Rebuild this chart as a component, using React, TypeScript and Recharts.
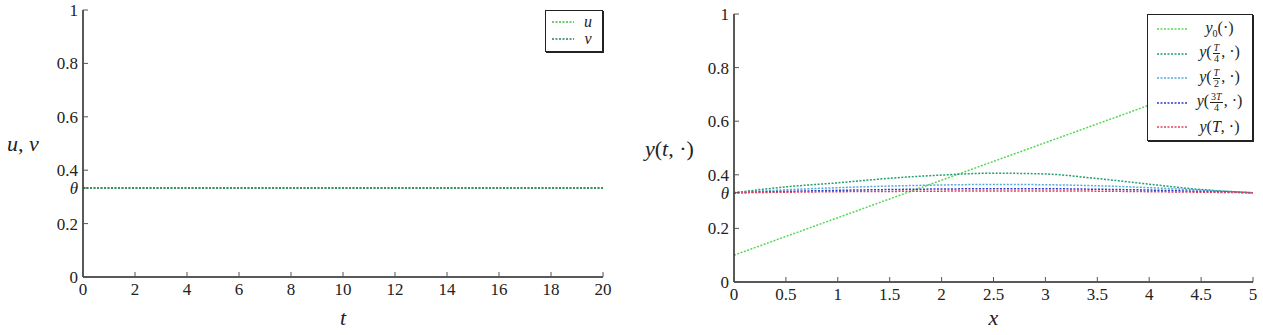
import React from "react";
import { LineChart, Line, XAxis, YAxis, Legend, Label } from "recharts";

const THETA = 1 / 3;

// left panel: u, v over time
const tPoints = [0, 5, 10, 15, 20];
const uValues = [0.333, 0.333, 0.333, 0.333, 0.333];
const vValues = [0.333, 0.333, 0.333, 0.333, 0.333];
const tTicks = [0, 2, 4, 6, 8, 10, 12, 14, 16, 18, 20];

// right panel: profiles y(t, x)
const xPoints = [0, 0.5, 1, 1.5, 2, 2.5, 3, 3.5, 4, 4.5, 5];
const y0Values = [0.1, 0.17, 0.24, 0.31, 0.38, 0.45, 0.52, 0.59, 0.66, 0.73, 0.8];
const yQuarter = [0.333, 0.355, 0.37, 0.387, 0.399, 0.406, 0.403, 0.386, 0.365, 0.345, 0.333];
const yHalf = [0.333, 0.344, 0.352, 0.358, 0.362, 0.364, 0.363, 0.359, 0.352, 0.343, 0.333];
const yThreeQuarter = [0.333, 0.338, 0.342, 0.345, 0.347, 0.348, 0.348, 0.346, 0.343, 0.338, 0.333];
const yFinal = [0.333, 0.335, 0.337, 0.338, 0.339, 0.34, 0.34, 0.339, 0.337, 0.335, 0.333];
const xTicks = [0, 0.5, 1, 1.5, 2, 2.5, 3, 3.5, 4, 4.5, 5];

const yTicks = [0, 0.2, THETA, 0.4, 0.6, 0.8, 1];

const leftKeys = ["u", "v"];
const rightKeys = ["y0", "q", "h", "tq", "f"];

const leftData = tPoints.map((t, i) => ({ t, u: uValues[i], v: vValues[i] }));
const rightData = xPoints.map((x, i) => ({
  x,
  y0: y0Values[i],
  q: yQuarter[i],
  h: yHalf[i],
  tq: yThreeQuarter[i],
  f: yFinal[i],
}));

const FONT = "Liberation Serif, DejaVu Serif, Times New Roman, serif";
const INK = "#222";
const DASH = "2 1.5";
const frame = { stroke: INK, strokeWidth: 1.5 };
const textStyle = { fontFamily: FONT };

const isTheta = (v: number) => Math.abs(v - THETA) < 1e-6;

function BottomTick(props: any) {
  const { x, y, payload } = props;
  return (
    <g>
      <line x1={x} y1={y} x2={x} y2={y - 5} stroke="#555" />
      <text x={x} y={y + 18} textAnchor="middle" fontSize={17} style={textStyle} fill={INK}>
        {payload.value}
      </text>
    </g>
  );
}

function TopTick(props: any) {
  const { x, y } = props;
  return <line x1={x} y1={y} x2={x} y2={y + 5} stroke="#555" />;
}

function LeftTick(props: any) {
  const { x, y, payload } = props;
  const th = isTheta(payload.value);
  return (
    <g>
      <line x1={x} y1={y} x2={x + 5} y2={y} stroke="#555" />
      <text
        x={x - 5}
        y={y}
        dy="0.35em"
        textAnchor="end"
        fontSize={17}
        style={{ ...textStyle, fontStyle: th ? "italic" : "normal" }}
        fill={INK}
      >
        {th ? "θ" : payload.value}
      </text>
    </g>
  );
}

function RightTick(props: any) {
  const { x, y } = props;
  return <line x1={x} y1={y} x2={x - 5} y2={y} stroke="#555" />;
}

function Frac({ n, d }: { n: React.ReactNode; d: React.ReactNode }) {
  return (
    <span
      style={{
        display: "inline-flex",
        flexDirection: "column",
        alignItems: "center",
        verticalAlign: "middle",
        fontSize: 10,
        lineHeight: "10px",
        margin: "0 1px",
      }}
    >
      <span style={{ borderBottom: "1px solid #222", padding: "0 1px" }}>{n}</span>
      <span>{d}</span>
    </span>
  );
}

const leftLabels: Record<string, React.ReactNode> = {
  u: <i>u</i>,
  v: <i>v</i>,
};

const rightLabels: Record<string, React.ReactNode> = {
  y0: (
    <span>
      <i>y</i>
      <sub style={{ fontSize: 10 }}>0</sub>(·)
    </span>
  ),
  q: (
    <span>
      <i>y</i>(<Frac n={<i>T</i>} d="4" />, ·)
    </span>
  ),
  h: (
    <span>
      <i>y</i>(<Frac n={<i>T</i>} d="2" />, ·)
    </span>
  ),
  tq: (
    <span>
      <i>y</i>(<Frac n={<span>3<i>T</i></span>} d="4" />, ·)
    </span>
  ),
  f: (
    <span>
      <i>y</i>(<i>T</i>, ·)
    </span>
  ),
};

function makeLegend(
  keys: string[],
  labels: Record<string, React.ReactNode>,
  rowH: number,
  sample: number,
  pad: number
) {
  return (props: any) => {
    const items = [...(props.payload || [])].sort(
      (a: any, b: any) => keys.indexOf(String(a.dataKey)) - keys.indexOf(String(b.dataKey))
    );
    return (
      <div
        style={{
          boxSizing: "border-box",
          width: "100%",
          height: "100%",
          border: "1.5px solid #222",
          boxShadow: "1px 1px 0 #222",
          background: "#fff",
          paddingTop: 2,
          fontFamily: FONT,
          fontSize: 16,
          color: INK,
        }}
      >
        {items.map((e: any) => (
          <div
            key={String(e.dataKey)}
            style={{ display: "flex", alignItems: "center", height: rowH, paddingLeft: pad }}
          >
            <svg width={sample} height={4} style={{ flex: "none" }}>
              <line x1={0} y1={2} x2={sample} y2={2} stroke={e.color} strokeWidth={1.5} strokeDasharray={DASH} />
            </svg>
            <span style={{ flex: 1, textAlign: "center", whiteSpace: "nowrap" }}>{labels[String(e.dataKey)]}</span>
          </div>
        ))}
      </div>
    );
  };
}

export default function App() {
  return (
    <div style={{ position: "absolute", left: 0, top: 0, width: 1263, height: 335, background: "#fff", fontFamily: FONT }}>
      <div style={{ position: "absolute", left: 0, top: 0 }}>
        <LineChart width={625} height={335} data={leftData} margin={{ top: 10, right: 22, bottom: 0, left: 0 }}>
          <XAxis
            dataKey="t"
            type="number"
            domain={[0, 20]}
            ticks={tTicks}
            interval={0}
            tickSize={0}
            tickMargin={0}
            tick={<BottomTick />}
            axisLine={frame}
            height={58}
            allowDataOverflow
          >
            <Label
              value="t"
              position="insideBottom"
              offset={10}
              fontSize={22}
              style={{ ...textStyle, fontStyle: "italic" }}
              fill={INK}
            />
          </XAxis>
          <XAxis
            xAxisId="top"
            orientation="top"
            type="number"
            domain={[0, 20]}
            ticks={tTicks}
            interval={0}
            tickSize={0}
            tickMargin={0}
            tick={<TopTick />}
            axisLine={frame}
            height={0}
            allowDataOverflow
          />
          <YAxis
            type="number"
            domain={[0, 1]}
            ticks={yTicks}
            interval={0}
            tickSize={0}
            tickMargin={0}
            tick={<LeftTick />}
            axisLine={frame}
            width={83}
            allowDataOverflow
          >
            <Label
              value="u, v"
              position="insideLeft"
              offset={7}
              fontSize={22}
              style={{ ...textStyle, fontStyle: "italic" }}
              fill={INK}
            />
          </YAxis>
          <YAxis
            yAxisId="r"
            orientation="right"
            type="number"
            domain={[0, 1]}
            ticks={yTicks}
            interval={0}
            tickSize={0}
            tickMargin={0}
            tick={<RightTick />}
            axisLine={frame}
            width={0}
            allowDataOverflow
          />
          <Line dataKey="u" type="linear" stroke="#40c040" strokeWidth={1.5} strokeDasharray={DASH} dot={false} isAnimationActive={false} />
          <Line dataKey="v" type="linear" stroke="#2a7a60" strokeWidth={1.5} strokeDasharray={DASH} dot={false} isAnimationActive={false} />
          <Legend
            layout="vertical"
            align="center"
            verticalAlign="middle"
            wrapperStyle={{ left: 545, top: 10, width: 58, height: 42 }}
            content={makeLegend(leftKeys, leftLabels, 17, 22, 6)}
          />
        </LineChart>
      </div>
      <div style={{ position: "absolute", left: 630, top: 0 }}>
        <LineChart width={633} height={335} data={rightData} margin={{ top: 14, right: 10, bottom: 0, left: 0 }}>
          <XAxis
            dataKey="x"
            type="number"
            domain={[0, 5]}
            ticks={xTicks}
            interval={0}
            tickSize={0}
            tickMargin={0}
            tick={<BottomTick />}
            axisLine={frame}
            height={53}
            allowDataOverflow
          >
            <Label
              value="x"
              position="insideBottom"
              offset={10}
              fontSize={22}
              style={{ ...textStyle, fontStyle: "italic" }}
              fill={INK}
            />
          </XAxis>
          <XAxis
            xAxisId="top"
            orientation="top"
            type="number"
            domain={[0, 5]}
            ticks={xTicks}
            interval={0}
            tickSize={0}
            tickMargin={0}
            tick={<TopTick />}
            axisLine={frame}
            height={0}
            allowDataOverflow
          />
          <YAxis
            type="number"
            domain={[0, 1]}
            ticks={yTicks}
            interval={0}
            tickSize={0}
            tickMargin={0}
            tick={<LeftTick />}
            axisLine={frame}
            width={104}
            allowDataOverflow
          >
            <Label
              position="insideLeft"
              content={(p: any) => {
                const vb = p.viewBox || {};
                return (
                  <text
                    x={vb.x + 15}
                    y={vb.y + vb.height / 2}
                    dy="0.35em"
                    fontSize={22}
                    style={textStyle}
                    fill={INK}
                  >
                    <tspan style={{ fontStyle: "italic" }}>y</tspan>(<tspan style={{ fontStyle: "italic" }}>t</tspan>, ·)
                  </text>
                );
              }}
            />
          </YAxis>
          <YAxis
            yAxisId="r"
            orientation="right"
            type="number"
            domain={[0, 1]}
            ticks={yTicks}
            interval={0}
            tickSize={0}
            tickMargin={0}
            tick={<RightTick />}
            axisLine={frame}
            width={0}
            allowDataOverflow
          />
          <Line dataKey="y0" type="linear" stroke="#55d855" strokeWidth={1.5} strokeDasharray={DASH} dot={false} isAnimationActive={false} />
          <Line dataKey="q" type="monotone" stroke="#22a070" strokeWidth={1.5} strokeDasharray={DASH} dot={false} isAnimationActive={false} />
          <Line dataKey="h" type="monotone" stroke="#55a8d8" strokeWidth={1.5} strokeDasharray={DASH} dot={false} isAnimationActive={false} />
          <Line dataKey="tq" type="monotone" stroke="#2a3fc8" strokeWidth={1.5} strokeDasharray={DASH} dot={false} isAnimationActive={false} />
          <Line dataKey="f" type="monotone" stroke="#e8405a" strokeWidth={1.5} strokeDasharray={DASH} dot={false} isAnimationActive={false} />
          <Legend
            layout="vertical"
            align="center"
            verticalAlign="middle"
            wrapperStyle={{ left: 517, top: 14, width: 106, height: 127 }}
            content={makeLegend(rightKeys, rightLabels, 24.5, 30, 9)}
          />
        </LineChart>
      </div>
    </div>
  );
}
